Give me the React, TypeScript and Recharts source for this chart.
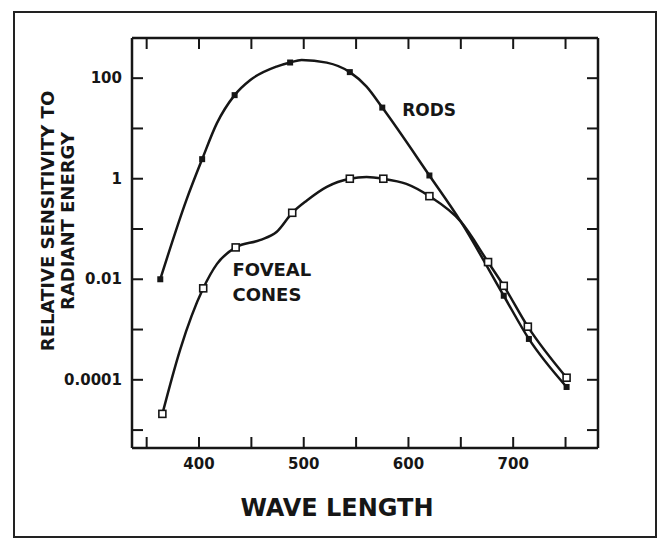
import React from 'react';
import { ComposedChart, Line, Scatter, XAxis, YAxis, ReferenceDot } from 'recharts';

// values (log scale on y)
const rodWl = [363, 388, 403, 417, 434, 449, 474, 487, 498, 522, 544, 560, 575, 620, 650, 691, 715, 751];
const rodVal = [0.01, 0.38, 2.45, 12.6, 46, 92, 170, 205, 230, 204, 132, 68, 26, 1.16, 0.14, 0.0047, 0.00065, 0.000072];
const rodMarkWl = [363, 403, 434, 487, 544, 575, 620, 691, 715, 751];

const coneWl = [365, 382, 404, 417, 435, 458, 474, 489, 503, 522, 544, 560, 576, 598, 620, 650, 676, 691, 714, 751];
const coneVal = [0.000021, 0.0004, 0.0066, 0.02, 0.043, 0.06, 0.087, 0.21, 0.37, 0.69, 1.0, 1.08, 1.0, 0.79, 0.45, 0.14, 0.022, 0.0074, 0.00114, 0.00011];
const coneMarkWl = [365, 404, 435, 489, 544, 576, 620, 676, 691, 714, 751];

const xTicks = [350, 400, 450, 500, 550, 600, 650, 700, 750];
const xLabels = ['400', '500', '600', '700'];
const yTicks = [0.00001, 0.0001, 0.001, 0.01, 0.1, 1, 10, 100];
const yLabels = ['100', '1', '0.01', '0.0001'];

const X_DOMAIN = [336, 781];
const Y_DOMAIN = [0.0000044, 630];

const rods = rodWl.map((wl, i) => ({ wl, v: rodVal[i] }));
const cones = coneWl.map((wl, i) => ({ wl, v: coneVal[i] }));
const rodMarks = rods.filter((d) => rodMarkWl.includes(d.wl));
const coneMarks = cones.filter((d) => coneMarkWl.includes(d.wl));

const INK = '#161616';
const FONT = '"DejaVu Sans", "Liberation Sans", Arial, sans-serif';

// chart layout
const W = 664;
const H = 540;
const MARGIN = { top: 37, right: 65, bottom: 62, left: 72 };
const Y_AXIS_W = 60;
const X_AXIS_H = 30;
const PLOT_LEFT = MARGIN.left + Y_AXIS_W;
const PLOT_RIGHT = W - MARGIN.right - 1;
const PLOT_TOP = MARGIN.top + 1;
const PLOT_BOTTOM = H - MARGIN.bottom - X_AXIS_H;
const TICK_LEN = 11;

// ticks point into the plot, labels stay outside
const LeftTick = (props: any) => {
  const { y, payload } = props;
  const label = yLabels.includes(String(payload.value)) ? String(payload.value) : '';
  return (
    <g>
      <line x1={PLOT_LEFT} x2={PLOT_LEFT + TICK_LEN} y1={y} y2={y} stroke={INK} strokeWidth={2} />
      {label && (
        <text x={PLOT_LEFT - 10} y={y} textAnchor="end" dominantBaseline="central" fill={INK} fontSize={15} fontWeight={700} fontFamily={FONT}>
          {label}
        </text>
      )}
    </g>
  );
};

const BottomTick = (props: any) => {
  const { x, payload } = props;
  const label = xLabels.includes(String(payload.value)) ? String(payload.value) : '';
  return (
    <g>
      <line x1={x} x2={x} y1={PLOT_BOTTOM} y2={PLOT_BOTTOM - TICK_LEN} stroke={INK} strokeWidth={2} />
      {label && (
        <text x={x} y={PLOT_BOTTOM + 16} textAnchor="middle" dominantBaseline="central" fill={INK} fontSize={15} fontWeight={700} fontFamily={FONT}>
          {label}
        </text>
      )}
    </g>
  );
};

const RightTick = (props: any) => {
  const { y } = props;
  return <line x1={PLOT_RIGHT} x2={PLOT_RIGHT - TICK_LEN} y1={y} y2={y} stroke={INK} strokeWidth={2} />;
};

const TopTick = (props: any) => {
  const { x } = props;
  return <line x1={x} x2={x} y1={PLOT_TOP} y2={PLOT_TOP + TICK_LEN} stroke={INK} strokeWidth={2} />;
};

const FilledMark = (props: any) => {
  const { cx, cy } = props;
  return <rect x={cx - 3} y={cy - 3} width={6} height={6} fill={INK} />;
};

const OpenMark = (props: any) => {
  const { cx, cy } = props;
  return <rect x={cx - 3.5} y={cy - 3.5} width={7} height={7} fill="#fff" stroke={INK} strokeWidth={1.6} />;
};

const curveLabel = (text: string, size: number) => (props: any) => {
  const { viewBox } = props;
  return (
    <text x={viewBox.x} y={viewBox.y} fill={INK} fontSize={size} fontWeight={700} fontFamily={FONT} dominantBaseline="central">
      {text}
    </text>
  );
};

const axisLine = { stroke: INK, strokeWidth: 2.5 };

export default function App() {
  return (
    <div style={{ position: 'fixed', left: 0, top: 0, width: W, height: H, background: '#fff' }}>
      <div
        style={{
          position: 'absolute',
          left: 13,
          top: 11,
          width: 644,
          height: 527,
          border: '2px solid #222',
          boxSizing: 'border-box',
        }}
      />
      <div style={{ position: 'absolute', left: 0, top: 0 }}>
        <ComposedChart width={W} height={H} margin={MARGIN}>
          <XAxis
            xAxisId="b"
            dataKey="wl"
            type="number"
            domain={X_DOMAIN}
            allowDataOverflow
            ticks={xTicks}
            orientation="bottom"
            height={X_AXIS_H}
            axisLine={axisLine}
            tickLine={false}
            tick={BottomTick}
            interval={0}
          />
          <XAxis
            xAxisId="t"
            dataKey="wl"
            type="number"
            domain={X_DOMAIN}
            allowDataOverflow
            ticks={xTicks}
            orientation="top"
            height={1}
            axisLine={axisLine}
            tickLine={false}
            tick={TopTick}
            interval={0}
          />
          <YAxis
            yAxisId="l"
            dataKey="v"
            type="number"
            scale="log"
            domain={Y_DOMAIN}
            allowDataOverflow
            ticks={yTicks}
            width={Y_AXIS_W}
            axisLine={axisLine}
            tickLine={false}
            tick={LeftTick}
            interval={0}
          />
          <YAxis
            yAxisId="r"
            dataKey="v"
            type="number"
            scale="log"
            domain={Y_DOMAIN}
            allowDataOverflow
            ticks={yTicks}
            orientation="right"
            width={1}
            axisLine={axisLine}
            tickLine={false}
            tick={RightTick}
            interval={0}
          />
          <Line
            xAxisId="b"
            yAxisId="l"
            data={cones}
            dataKey="v"
            type="monotone"
            stroke={INK}
            strokeWidth={2.5}
            dot={false}
            isAnimationActive={false}
          />
          <Line
            xAxisId="b"
            yAxisId="l"
            data={rods}
            dataKey="v"
            type="monotone"
            stroke={INK}
            strokeWidth={2.5}
            dot={false}
            isAnimationActive={false}
          />
          <Scatter xAxisId="b" yAxisId="l" data={rodMarks} dataKey="v" shape={<FilledMark />} isAnimationActive={false} />
          <Scatter xAxisId="b" yAxisId="l" data={coneMarks} dataKey="v" shape={<OpenMark />} isAnimationActive={false} />
          <ReferenceDot xAxisId="b" yAxisId="l" x={594} y={23} r={0} label={curveLabel('RODS', 17)} />
          <ReferenceDot xAxisId="b" yAxisId="l" x={432} y={0.0158} r={0} label={curveLabel('FOVEAL', 18)} />
          <ReferenceDot xAxisId="b" yAxisId="l" x={432} y={0.005} r={0} label={curveLabel('CONES', 18)} />
        </ComposedChart>
      </div>
      <svg width={W} height={H} style={{ position: 'absolute', left: 0, top: 0, pointerEvents: 'none' }}>
        <g transform="translate(47 221) rotate(-90)" fill={INK} fontFamily={FONT} fontWeight={700} fontSize={18} textAnchor="middle">
          <text x={0} y={0} dominantBaseline="central">RELATIVE SENSITIVITY TO</text>
          <text x={0} y={20} dominantBaseline="central">RADIANT ENERGY</text>
        </g>
        <text x={337} y={508} fill={INK} fontFamily={FONT} fontWeight={700} fontSize={24} textAnchor="middle" dominantBaseline="central">
          WAVE LENGTH
        </text>
      </svg>
    </div>
  );
}
